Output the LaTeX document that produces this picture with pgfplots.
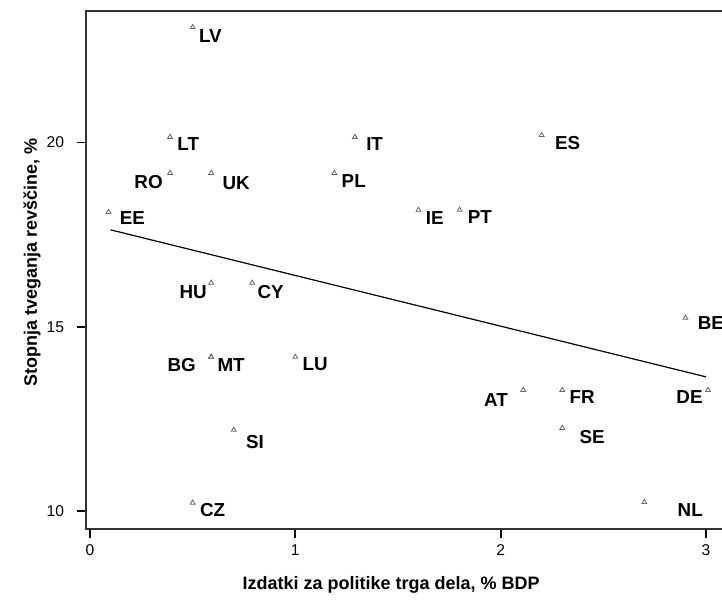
\documentclass[border=0pt]{standalone}
\usepackage{fontspec}
\setmainfont{Liberation Sans}
\usepackage{pgfplots}
\pgfplotsset{compat=1.18}
\begin{document}
\begin{tikzpicture}
\path[use as bounding box] (0,0) rectangle (361pt,299.5pt);
\begin{axis}[
 at={(43pt,35pt)}, anchor=south west,
 scale only axis, width=321.25pt, height=259pt,
 xmin=-0.0195, xmax=3.11, ymin=9.51, ymax=23.57,
 xtick={0,1,2,3}, ytick={10,15,20},
 tick align=outside, xtick pos=left, ytick pos=left,
 major tick length=4.5pt,
 tick style={black, line width=0.9pt},
 axis line style={black!80, line width=0.7pt},
 tick label style={font=\fontsize{7.8}{9}\selectfont},
 yticklabel style={xshift=-3pt},
 /pgf/number format/assume math mode=true,
 xlabel={Izdatki za politike trga dela, \% BDP},
 ylabel={Stopnja tveganja revščine, \%},
 label style={font=\bfseries\fontsize{9}{11}\selectfont},
 xlabel style={at={(axis description cs:0.475,-0.108)}, anchor=center},
 ylabel style={at={(axis description cs:-0.084,0.515)}, anchor=center},
 clip=false,
]
\addplot[black, line width=0.6pt] coordinates {(0.1,17.63) (3.0,13.64)};
\addplot[only marks, mark=triangle, mark size=1.4pt, mark options={draw=black!60, line width=0.4pt},
 nodes near coords, point meta=explicit symbolic,
 visualization depends on={\thisrow{dx} \as \dx},
 visualization depends on={\thisrow{dy} \as \dy},
 every node near coord/.append style={anchor=west, inner sep=0pt, text=black,
   font=\bfseries\fontsize{9.4}{11}\selectfont, xshift=\dx*0.5pt, yshift=\dy*0.5pt}]
 table[meta=lab] {
x y lab dx dy
0.50 23.13 LV 6 -9
0.39 20.15 LT 7 -7
1.29 20.15 IT 11 -7
2.20 20.20 ES 13 -8
0.59 19.17 UK 11 -10
1.19 19.17 PL 7 -8
0.09 18.11 EE 11 -6
1.60 18.17 IE 7 -8
1.80 18.17 PT 8 -7
2.90 15.24 BE 12 -5
0.79 16.19 CY 5 -9
0.59 14.18 MT 6 -8
1.00 14.18 LU 7 -7
0.70 12.20 SI 12 -12
0.50 10.22 CZ 7 -7
2.30 13.28 FR 7 -7
2.30 12.25 SE 17 -9
2.70 10.24 NL 33 -8
};
\addplot[only marks, mark=triangle, mark size=1.4pt, mark options={draw=black!60, line width=0.4pt},
 nodes near coords, point meta=explicit symbolic,
 visualization depends on={\thisrow{dx} \as \dx},
 visualization depends on={\thisrow{dy} \as \dy},
 every node near coord/.append style={anchor=east, inner sep=0pt, text=black,
   font=\bfseries\fontsize{9.4}{11}\selectfont, xshift=\dx*0.5pt, yshift=\dy*0.5pt}]
 table[meta=lab] {
x y lab dx dy
0.39 19.17 RO -7 -9
0.59 16.19 HU -4 -9
0.59 14.18 BG -15 -8
2.11 13.28 AT -15 -10
3.01 13.28 DE -5 -7
};
\end{axis}
\end{tikzpicture}
\end{document}
